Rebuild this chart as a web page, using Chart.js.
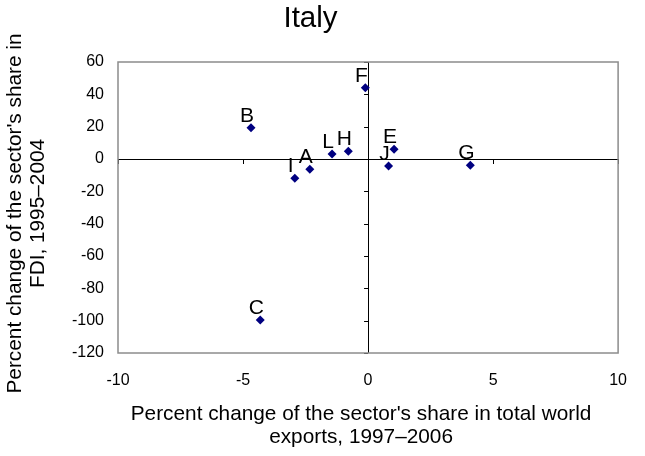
<!DOCTYPE html>
<html>
<head>
<meta charset="utf-8">
<script src="https://cdn.jsdelivr.net/npm/chart.js@4.4.1/dist/chart.umd.min.js"></script>
<style>
  html, body { margin: 0; padding: 0; background: #fff; }
  #wrap { width: 645px; height: 456px; }
</style>
</head>
<body>
<div id="wrap"><canvas id="chart" width="645" height="456"></canvas></div>
<script>
// sectors and their values
const sectors = ["A", "B", "C", "E", "F", "G", "H", "I", "J", "L"];
const exportChange = [-2.33, -4.68, -4.31, 1.04, -0.11, 4.09, -0.79, -2.93, 0.82, -1.44];
const fdiChange = [-6.4, 19.4, -99.6, 6.0, 44.1, -3.9, 4.8, -11.9, -4.3, 3.1];
const xTicks = [-10, -5, 0, 5, 10];
const yTicks = [60, 40, 20, 0, -20, -40, -60, -80, -100, -120];
const xTitle = ["Percent change of the sector's share in total world", "exports, 1997\u20132006"];
const yTitle = ["Percent change of the sector's share in", "FDI, 1995\u20132004"];

const FONT = "'Liberation Sans', Arial, sans-serif";

const points = sectors.map((s, i) => ({ x: exportChange[i], y: fdiChange[i] }));

// gray frame round the plot, tick marks on the zero axes, letters by the points
const framePlugin = {
  id: "frame",
  beforeDatasetsDraw(chart) {
    const { ctx, chartArea: a, scales } = chart;
    const x0 = scales.x.getPixelForValue(0);
    const y0 = scales.y.getPixelForValue(0);
    ctx.save();
    ctx.strokeStyle = "#000";
    ctx.lineWidth = 1;
    ctx.beginPath();
    yTicks.forEach((v) => {
      const py = Math.round(scales.y.getPixelForValue(v)) + 0.5;
      ctx.moveTo(x0 - 4, py);
      ctx.lineTo(x0, py);
    });
    xTicks.forEach((v) => {
      const px = Math.round(scales.x.getPixelForValue(v)) + 0.5;
      ctx.moveTo(px, y0);
      ctx.lineTo(px, y0 + 5);
    });
    ctx.stroke();
    ctx.strokeStyle = "#8c8c8c";
    ctx.lineWidth = 1.5;
    ctx.strokeRect(a.left, a.top, a.right - a.left, a.bottom - a.top);
    ctx.restore();
  },
  afterDatasetsDraw(chart) {
    const { ctx, chartArea: a } = chart;
    const meta = chart.getDatasetMeta(0);
    ctx.save();
    ctx.font = "21px " + FONT;
    ctx.fillStyle = "#000";
    ctx.textAlign = "center";
    ctx.textBaseline = "alphabetic";
    meta.data.forEach((pt, i) => {
      ctx.fillText(sectors[i], pt.x - 4, pt.y - 6);
    });

    // axis titles, placed a little off the plot centre like the original
    ctx.font = "20.8px " + FONT;
    ctx.textBaseline = "middle";
    const cx = (a.left + a.right) / 2 - 7;
    xTitle.forEach((line, i) => ctx.fillText(line, cx, a.bottom + 61 + i * 23));
    const cy = (a.top + a.bottom) / 2 + 6;
    ctx.translate(0, cy);
    ctx.rotate(-Math.PI / 2);
    yTitle.forEach((line, i) => ctx.fillText(line, 0, 15 + i * 23));
    ctx.restore();
  },
};

new Chart(document.getElementById("chart").getContext("2d"), {
  type: "scatter",
  data: {
    datasets: [
      {
        data: points,
        pointStyle: "rectRot",
        pointRadius: 4.5,
        pointBackgroundColor: "#000080",
        pointBorderColor: "#000080",
        pointBorderWidth: 0,
      },
    ],
  },
  options: {
    responsive: false,
    animation: false,
    events: [],
    layout: { padding: { left: 0, right: 24, top: 0, bottom: 0 } },
    plugins: {
      legend: { display: false },
      tooltip: { enabled: false },
      title: {
        display: true,
        text: "Italy",
        color: "#000",
        font: { family: FONT, size: 29.5, weight: "normal" },
        padding: { top: 1, bottom: 25.6 },
      },
    },
    scales: {
      x: {
        type: "linear",
        min: -10,
        max: 10,
        afterBuildTicks(scale) {
          scale.ticks = xTicks.map((v) => ({ value: v }));
        },
        afterFit(scale) {
          scale.height = 103;
        },
        border: { display: false },
        grid: {
          drawTicks: false,
          color: (c) => (c.tick && c.tick.value === 0 ? "#000" : "rgba(0,0,0,0)"),
          lineWidth: 1,
        },
        ticks: {
          color: "#000",
          padding: 18,
          font: { family: FONT, size: 16 },
          maxRotation: 0,
        },
      },
      y: {
        type: "linear",
        min: -120,
        max: 60,
        afterBuildTicks(scale) {
          scale.ticks = yTicks.map((v) => ({ value: v }));
        },
        afterFit(scale) {
          scale.width = 118;
        },
        border: { display: false },
        grid: {
          drawTicks: false,
          color: (c) => (c.tick && c.tick.value === 0 ? "#000" : "rgba(0,0,0,0)"),
          lineWidth: 1,
        },
        ticks: {
          color: "#000",
          padding: 14,
          font: { family: FONT, size: 16 },
        },
      },
    },
  },
  plugins: [framePlugin],
});
</script>
</body>
</html>
